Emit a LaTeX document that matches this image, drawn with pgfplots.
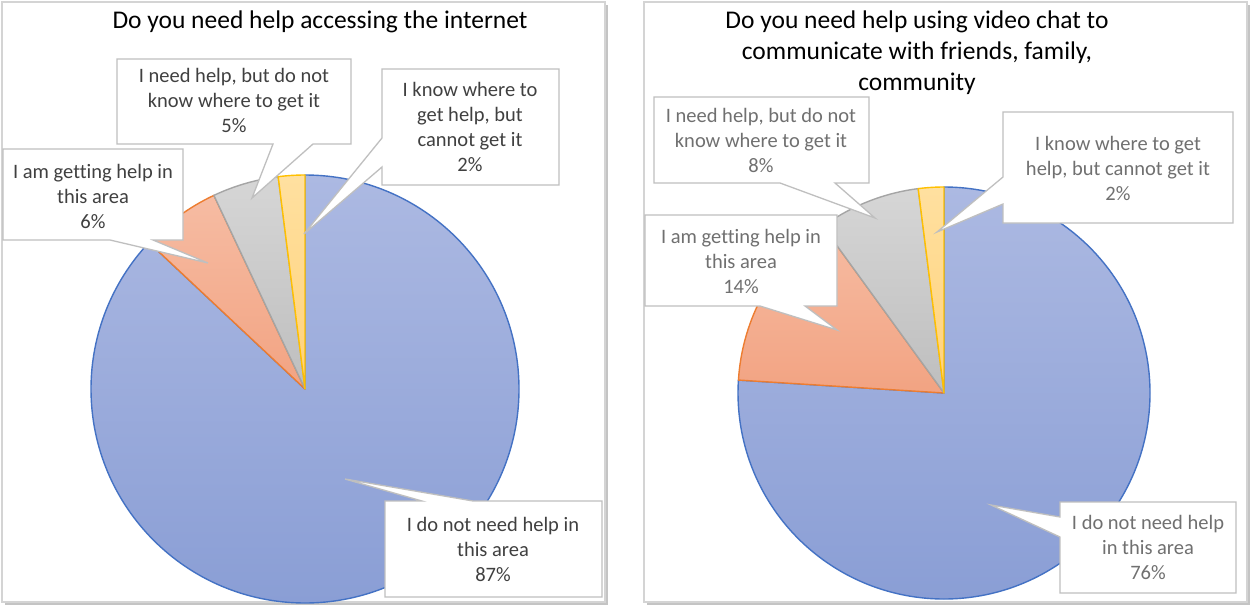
\documentclass[border=0pt]{standalone}
\usepackage{pgfplots}
\pgfplotsset{compat=1.18}
\usepackage{pgfplotstable}
\usepackage{fontspec}
\setmainfont{Carlito}[Ligatures=NoCommon]

\definecolor{blueA}{HTML}{ACB9E2}
\definecolor{blueB}{HTML}{8A9ED5}
\definecolor{blueL}{HTML}{4472C4}
\definecolor{orA}{HTML}{F6BCA3}
\definecolor{orB}{HTML}{F2A382}
\definecolor{orL}{HTML}{ED7D31}
\definecolor{grA}{HTML}{D6D6D6}
\definecolor{grB}{HTML}{BEBEBE}
\definecolor{grL}{HTML}{A5A5A5}
\definecolor{ylA}{HTML}{FFE0A0}
\definecolor{ylB}{HTML}{FFD27A}
\definecolor{ylL}{HTML}{FFC000}
\definecolor{boxL}{HTML}{BFBFBF}
\definecolor{panL}{HTML}{D4D4D4}
\definecolor{shad}{HTML}{C4C4C4}
\definecolor{txtL}{HTML}{404040}
\definecolor{txtR}{HTML}{707070}

% shares of the four answers, clockwise from 12 o'clock
\pgfplotstableread{
share
87
6
5
2
}\pieA
\pgfplotstableread{
share
76
14
8
2
}\pieB

% slice: cx cy R start% end% topcolor bottomcolor linecolor
\newcommand\slice[8]{%
  \path[draw=#8, line width=1.4pt, line join=round, top color=#6, bottom color=#7]
    (axis cs:#1,#2) -- ++({90-3.6*(#4)}:#3pt)
    arc[start angle={90-3.6*(#4)}, end angle={90-3.6*(#5)}, radius=#3pt] -- cycle;}

% callouts: L T R B base1 base2 tipx tipy
\newcommand\calloutBottom[8]{%
  \path[draw=boxL, fill=white, line width=1.3pt]
   (axis cs:#1,#2) -- (axis cs:#3,#2) -- (axis cs:#3,#4) -- (axis cs:#6,#4)
   -- (axis cs:#7,#8) -- (axis cs:#5,#4) -- (axis cs:#1,#4) -- cycle;}
\newcommand\calloutTop[8]{%
  \path[draw=boxL, fill=white, line width=1.3pt]
   (axis cs:#1,#2) -- (axis cs:#5,#2) -- (axis cs:#7,#8) -- (axis cs:#6,#2)
   -- (axis cs:#3,#2) -- (axis cs:#3,#4) -- (axis cs:#1,#4) -- cycle;}
\newcommand\calloutLeft[8]{%
  \path[draw=boxL, fill=white, line width=1.3pt]
   (axis cs:#1,#2) -- (axis cs:#3,#2) -- (axis cs:#3,#4) -- (axis cs:#1,#4)
   -- (axis cs:#1,#6) -- (axis cs:#7,#8) -- (axis cs:#1,#5) -- cycle;}

\begin{document}%
\begin{tikzpicture}
\pgfplotstablegetelem{0}{share}\of\pieA \xdef\Aa{\pgfplotsretval}
\pgfplotstablegetelem{1}{share}\of\pieA \xdef\Ab{\pgfplotsretval}
\pgfplotstablegetelem{2}{share}\of\pieA \xdef\Ac{\pgfplotsretval}
\pgfplotstablegetelem{3}{share}\of\pieA \xdef\Ad{\pgfplotsretval}
\pgfplotstablegetelem{0}{share}\of\pieB \xdef\Ba{\pgfplotsretval}
\pgfplotstablegetelem{1}{share}\of\pieB \xdef\Bb{\pgfplotsretval}
\pgfplotstablegetelem{2}{share}\of\pieB \xdef\Bc{\pgfplotsretval}
\pgfplotstablegetelem{3}{share}\of\pieB \xdef\Bd{\pgfplotsretval}
\pgfmathsetmacro\Aab{\Aa+\Ab}\pgfmathsetmacro\Aabc{\Aa+\Ab+\Ac}\pgfmathsetmacro\Aall{\Aa+\Ab+\Ac+\Ad}
\pgfmathsetmacro\Bab{\Ba+\Bb}\pgfmathsetmacro\Babc{\Ba+\Bb+\Bc}\pgfmathsetmacro\Ball{\Ba+\Bb+\Bc+\Bd}
\begin{axis}[
  x=1pt, y=1pt, xmin=0, xmax=1252, ymin=0, ymax=607, y dir=reverse,
  hide axis, clip=false, scale only axis, anchor=south west, at={(0,0)}]
\addplot[draw=none] coordinates {(0,0) (1252,607)};
% background
\path[fill=white] (axis cs:0,0) rectangle (axis cs:1252,607);
% panels with shadow
\path[fill=shad] (axis cs:5,5) rectangle (axis cs:608,605);
\path[fill=shad] (axis cs:647,5) rectangle (axis cs:1250,605);
\path[fill=white, draw=panL, line width=1.2pt] (axis cs:2,2) rectangle (axis cs:605,602);
\path[fill=white, draw=panL, line width=1.2pt] (axis cs:644,2) rectangle (axis cs:1247,602);

% titles
\node[font=\fontsize{25.5}{31}\selectfont, text=black] at (axis cs:320,22) {Do you need help accessing the internet};
\node[font=\fontsize{25.5}{31}\selectfont, text=black, align=center] at (axis cs:917,53)
  {Do you need help using video chat to\\communicate with friends, family,\\community};

% left pie
\slice{305}{389}{214}{0}{\Aa}{blueA}{blueB}{blueL}
\slice{305}{389}{214}{\Aa}{\Aab}{orA}{orB}{orL}
\slice{305}{389}{214}{\Aab}{\Aabc}{grA}{grB}{grL}
\slice{305}{389}{214}{\Aabc}{\Aall}{ylA}{ylB}{ylL}
% right pie
\slice{944}{393}{206}{0}{\Ba}{blueA}{blueB}{blueL}
\slice{944}{393}{206}{\Ba}{\Bab}{orA}{orB}{orL}
\slice{944}{393}{206}{\Bab}{\Babc}{grA}{grB}{grL}
\slice{944}{393}{206}{\Babc}{\Ball}{ylA}{ylB}{ylL}

% left callouts
\calloutBottom{117}{59}{351}{144}{273}{313}{252}{198}
\calloutLeft{382}{69}{559}{185}{138}{167}{304}{234}
\calloutBottom{3}{149}{183}{240}{110}{153}{208}{263}
\calloutTop{385}{501}{602}{597}{422}{473}{345}{479}
\begin{scope}[every node/.style={font=\fontsize{20.5}{25}\selectfont, text=txtL, align=center}]
\node at (axis cs:234,100) {I need help, but do not\\know where to get it\\\Ac\%};
\node at (axis cs:470,127) {I know where to\\get help, but\\cannot get it\\\Ad\%};
\node at (axis cs:93,196) {I am getting help in\\this area\\\Ab\%};
\node at (axis cs:493,549) {I do not need help in\\this area\\\Aa\%};
\end{scope}

% right callouts
\calloutBottom{654}{97}{869}{183}{780}{835}{875}{218}
\calloutLeft{1003}{112}{1233}{223}{177}{204}{937}{232}
\calloutBottom{645}{215}{837}{306}{760}{805}{837}{330}
\calloutLeft{1060}{502}{1236}{593}{517}{537}{991}{505}
\begin{scope}[every node/.style={font=\fontsize{20.5}{25}\selectfont, text=txtR, align=center}]
\node at (axis cs:761,140) {I need help, but do not\\know where to get it\\\Bc\%};
\node at (axis cs:1118,168) {I know where to get\\help, but cannot get it\\\Bd\%};
\node at (axis cs:741,261) {I am getting help in\\this area\\\Bb\%};
\node at (axis cs:1148,547) {I do not need help\\in this area\\\Ba\%};
\end{scope}
\end{axis}
\end{tikzpicture}%
\end{document}
